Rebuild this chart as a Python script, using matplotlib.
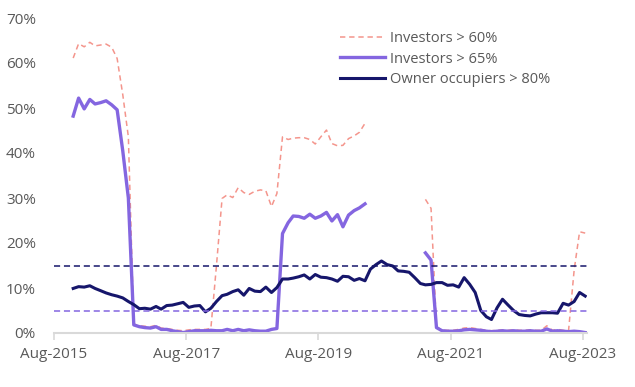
import numpy as np
import pandas as pd
import matplotlib
matplotlib.use("Agg")
import matplotlib.pyplot as plt
import matplotlib.dates as mdates

nan = np.nan

# monthly observations, Nov-2015 .. Aug-2023 (plotted mid-month)
months = pd.date_range("2015-11-01", periods=94, freq="MS") + pd.Timedelta(days=14)

investors_60 = [
    61.1, 64.3, 63.6, 64.6, 63.8, 64.0, 64.2, 63.5, 61.0, 53.0, 43.6,
    2.0, 1.6, 1.5, 1.4, 1.7, 1.1, 1.0, 0.8, 0.6, 0.5, 0.7, 0.8, 0.8, 0.8, 1.0,
    15.0,
    29.9, 30.7, 30.1, 32.3, 31.2, 30.8, 31.5, 31.8, 31.6, 28.1, 31.0,
    43.6, 43.0, 43.3, 43.4, 43.4, 43.0, 42.0, 43.6, 45.1, 42.1, 41.6,
    41.7, 43.2, 43.8, 44.6, 46.6,
    nan, nan, nan, nan, nan, nan, nan, nan, nan, nan,
    29.7, 27.7,
    1.4, 0.6, 0.6, 0.6, 0.8, 1.1, 1.2, 1.0, 0.8, 0.6,
    0.5, 0.6, 0.7, 0.6, 0.7, 0.6, 0.6, 0.7, 0.6, 0.6,
    1.6, 0.6, 0.8, 0.6, 0.5, 14.0, 22.5, 22.2,
]

investors_65 = [
    48.2, 52.2, 49.8, 51.9, 50.9, 51.2, 51.6, 50.7, 49.6, 40.5, 30.0,
    1.8, 1.4, 1.2, 1.1, 1.4, 0.8, 0.8, 0.5, 0.3, 0.1, 0.3, 0.5, 0.5, 0.5, 0.6,
    0.5, 0.5, 0.8, 0.5, 0.8, 0.5, 0.7, 0.5, 0.4, 0.4, 0.8, 1.0,
    22.1, 24.5, 26.0, 25.9, 25.5, 26.4, 25.5, 26.0, 26.8, 24.9, 26.3,
    23.6, 26.2, 27.2, 27.8, 28.7,
    nan, nan, nan, nan, nan, nan, nan, nan, nan, nan,
    17.8, 16.2,
    1.2, 0.5, 0.4, 0.4, 0.5, 0.7, 0.8, 0.7, 0.6, 0.4,
    0.3, 0.4, 0.5, 0.4, 0.5, 0.4, 0.4, 0.5, 0.4, 0.4,
    0.9, 0.4, 0.5, 0.4, 0.3, 0.4, 0.3, 0.1,
]

owner_occ_80 = [
    9.9, 10.3, 10.2, 10.5, 9.9, 9.4, 8.9, 8.5, 8.2, 7.8, 7.0,
    6.3, 5.4, 5.5, 5.3, 5.9, 5.3, 6.1, 6.2, 6.5, 6.8, 5.7, 6.0, 6.1, 4.7, 5.5,
    7.0, 8.3, 8.6, 9.2, 9.6, 8.4, 9.9, 9.3, 9.2, 10.2, 9.0, 10.1,
    12.0, 12.0, 12.2, 12.5, 12.9, 12.0, 13.0, 12.4, 12.3, 12.0, 11.5,
    12.6, 12.5, 11.7, 12.1, 11.6,
    14.2, 15.2, 16.0, 15.2, 14.9, 13.8, 13.7, 13.5, 12.3, 11.0,
    10.7, 10.8,
    11.2, 11.2, 10.6, 10.7, 10.2, 12.3, 10.8, 9.0, 5.0, 3.6,
    3.0, 5.6, 7.5, 6.2, 5.0, 4.1, 3.9, 3.8, 4.2, 4.5,
    4.5, 4.5, 4.4, 6.6, 6.2, 7.0, 9.0, 8.2,
]

limit_owner_occ = 15
limit_investor = 5

tick_dates = pd.to_datetime(["2015-08-01", "2017-08-01", "2019-08-01",
                             "2021-08-01", "2023-08-01"])

plt.rcParams["font.family"] = ["Open Sans", "DejaVu Sans"]

fig = plt.figure(figsize=(6.35, 3.87), dpi=100)
ax = fig.add_axes([54 / 635, 1 - 333 / 387, 533 / 635, 315 / 387])

pink = "#f4958c"
purple = "#8466e0"
navy = "#16166b"

ax.plot(months, investors_60, color=pink, lw=1.1, dashes=(3.5, 2.5),
        label="Investors > 60%")
ax.plot(months, investors_65, color=purple, lw=2.4, label="Investors > 65%",
        solid_joinstyle="round")
ax.plot(months, owner_occ_80, color=navy, lw=2.2,
        label="Owner occupiers > 80%", solid_joinstyle="round")

ax.axhline(limit_owner_occ, color=navy, lw=1.1, dashes=(4, 2.5))
ax.axhline(limit_investor, color=purple, lw=1.1, dashes=(4, 2.5))

ax.set_xlim(pd.Timestamp("2015-08-01"), pd.Timestamp("2023-08-25"))
ax.set_ylim(0, 70)
ax.set_yticks(range(0, 71, 10))
ax.set_yticklabels([f"{v}%" for v in range(0, 71, 10)])
ax.set_xticks(tick_dates)
ax.xaxis.set_major_formatter(mdates.DateFormatter("%b-%Y"))

for side in ["top", "right", "left"]:
    ax.spines[side].set_visible(False)
ax.spines["bottom"].set_color("#d9d9d9")
ax.spines["bottom"].set_linewidth(1.5)
ax.tick_params(axis="y", length=0, pad=13, labelsize=11, labelcolor="#595959")
ax.tick_params(axis="x", length=5, width=1.2, color="#d9d9d9", pad=5,
               labelsize=11, labelcolor="#595959")

leg = fig.legend(loc="upper left", bbox_to_anchor=(340 / 635, 1 - 31 / 387),
                 frameon=False, fontsize=10.5, handlelength=3.1,
                 handletextpad=0.3, labelspacing=0.38, borderpad=0,
                 borderaxespad=0)
for t in leg.get_texts():
    t.set_color("#595959")

fig.savefig("out.png", dpi=100)
